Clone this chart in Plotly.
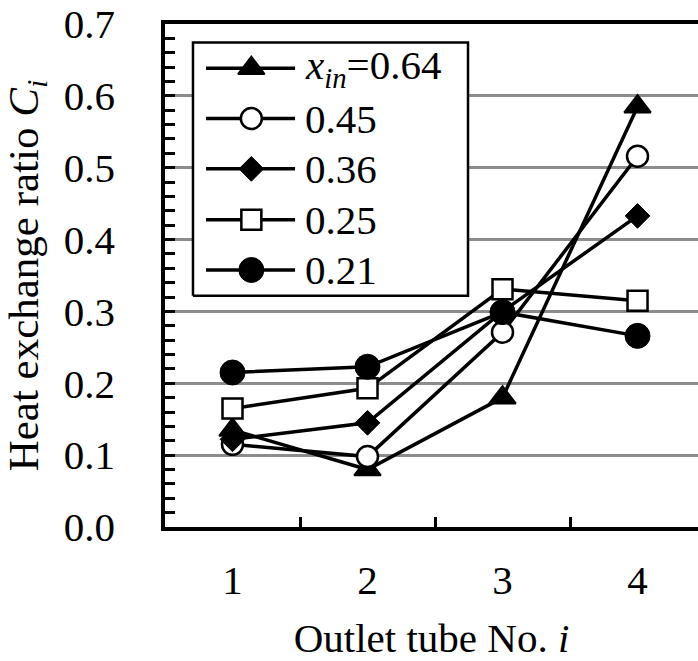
import plotly.graph_objects as go

# Outlet tube numbers and heat exchange ratio C_i for each inlet quality x_in
tubes = [1, 2, 3, 4]
tick_text = ["1", "2", "3", "4"]
series_names = ["<i>x</i><sub><i>in</i></sub>=0.64", "0.45", "0.36", "0.25", "0.21"]
c_064 = [0.135, 0.080, 0.180, 0.585]
c_045 = [0.115, 0.098, 0.271, 0.516]
c_036 = [0.122, 0.145, 0.300, 0.433]
c_025 = [0.165, 0.193, 0.331, 0.315]
c_021 = [0.215, 0.223, 0.299, 0.266]
y_ticks = [0.0, 0.1, 0.2, 0.3, 0.4, 0.5, 0.6, 0.7]

FONT = "Liberation Serif"
BLACK = "#000000"

markers = [
    dict(symbol="triangle-up", size=23, color=BLACK, line=dict(color=BLACK, width=2)),
    dict(symbol="circle", size=21, color="white", line=dict(color=BLACK, width=2.5)),
    dict(symbol="diamond", size=19, color=BLACK, line=dict(color=BLACK, width=1)),
    dict(symbol="square", size=20, color="white", line=dict(color=BLACK, width=2.5)),
    dict(symbol="circle", size=25, color=BLACK, line=dict(color=BLACK, width=1)),
]
values = [c_064, c_045, c_036, c_025, c_021]

fig = go.Figure()
for name, vals, mk in zip(series_names, values, markers):
    fig.add_trace(go.Scatter(
        x=tubes, y=vals, name=name, mode="lines+markers",
        line=dict(color=BLACK, width=3.5), marker=mk,
        showlegend=False, xaxis="x", yaxis="y",
    ))

# Hand-built legend in a normalized overlay frame (long sample lines)
box_x0, box_x1, box_y0, box_y1 = 0.0525, 0.5685, 0.4598, 0.963
fig.add_trace(go.Scatter(
    x=[box_x0, box_x1, box_x1, box_x0, box_x0],
    y=[box_y0, box_y0, box_y1, box_y1, box_y0],
    mode="lines", fill="toself", fillcolor="white",
    line=dict(color=BLACK, width=2.5), showlegend=False,
    xaxis="x2", yaxis="y2", hoverinfo="skip",
))

row_y = [0.912, 0.812, 0.712, 0.611, 0.511]
line_x0, line_xm, line_x1, text_x = 0.077, 0.162, 0.244, 0.259
for name, ry, mk in zip(series_names, row_y, markers):
    fig.add_trace(go.Scatter(
        x=[line_x0, line_x1], y=[ry, ry], mode="lines",
        line=dict(color=BLACK, width=3.5), showlegend=False,
        xaxis="x2", yaxis="y2", hoverinfo="skip",
    ))
    fig.add_trace(go.Scatter(
        x=[line_xm], y=[ry], mode="markers", marker=mk, showlegend=False,
        xaxis="x2", yaxis="y2", hoverinfo="skip",
    ))
    fig.add_annotation(
        x=text_x, y=ry, xref="x2", yref="y2", text=name, showarrow=False,
        xanchor="left", yanchor="middle",
        font=dict(family=FONT, size=41, color=BLACK),
    )

fig.update_layout(
    width=698, height=661,
    margin=dict(l=165, r=0, t=24, b=134),
    paper_bgcolor="white", plot_bgcolor="white",
    font=dict(family=FONT, size=40, color=BLACK),
    xaxis=dict(
        range=[0.5, 4.448], tickmode="array", tickvals=tubes, ticktext=tick_text,
        ticks="", showgrid=False, zeroline=False,
        showline=True, linecolor=BLACK, linewidth=3.5, mirror=True,
        tickfont=dict(family=FONT, size=41, color=BLACK),
        ticklabelstandoff=14,
        minor=dict(tickmode="array", tickvals=[1.5, 2.5, 3.5], ticks="inside",
                   ticklen=10, tickwidth=3, tickcolor=BLACK, showgrid=False),
        title=dict(text="Outlet tube No. <i>i</i>", standoff=22,
                   font=dict(family=FONT, size=41, color=BLACK)),
    ),
    yaxis=dict(
        range=[0, 0.7], tickmode="array", tickvals=y_ticks,
        ticktext=[f"{v:.1f}" for v in y_ticks],
        ticks="inside", ticklen=10, tickwidth=3, tickcolor=BLACK,
        showgrid=True, gridcolor="#8c8c8c", gridwidth=3, zeroline=False,
        showline=True, linecolor=BLACK, linewidth=3.5,
        tickfont=dict(family=FONT, size=41, color=BLACK),
        ticklabelstandoff=38,
        minor=dict(dtick=0.02, tick0=0, ticks="inside", ticklen=10,
                   tickwidth=3, tickcolor=BLACK, showgrid=False),
        title=dict(text="Heat exchange ratio <i>C<sub>i</sub></i>", standoff=16,
                   font=dict(family=FONT, size=43, color=BLACK)),
    ),
    xaxis2=dict(range=[0, 1], overlaying="x", anchor="y2", visible=False),
    yaxis2=dict(range=[0, 1], overlaying="y", anchor="x2", visible=False),
)

fig.write_html("out.html")
